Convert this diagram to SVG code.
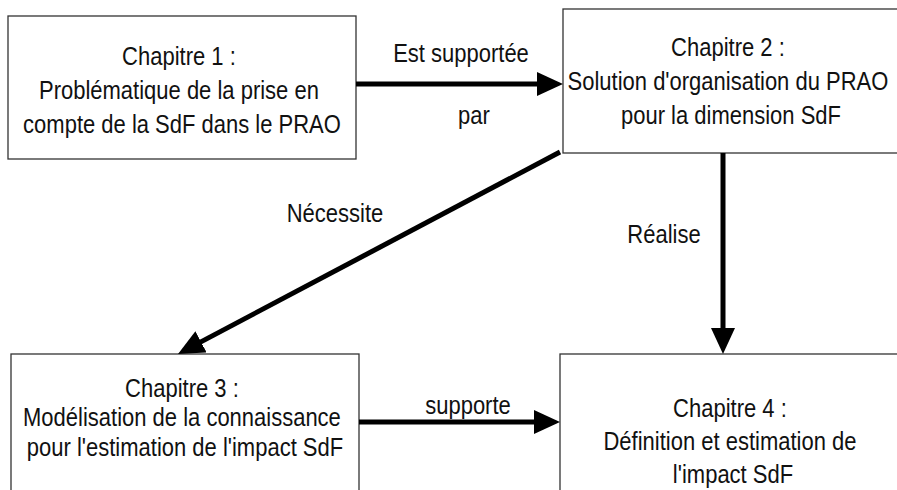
<svg xmlns="http://www.w3.org/2000/svg" width="897" height="490" viewBox="0 0 897 490">
  <defs>
    <style>
      .box { fill: #ffffff; stroke: #333333; stroke-width: 1.3; }
      .lbl { font-family: "Liberation Sans", Arial, sans-serif; font-size: 22px; fill: #111111; text-anchor: middle; }
      .edge { stroke: #000000; stroke-width: 5; fill: none; marker-end: url(#head); }
    </style>
    <marker id="head" markerUnits="userSpaceOnUse" markerWidth="26" markerHeight="24" viewBox="0 0 26 24" refX="6" refY="12" orient="auto">
      <path d="M0,0 L26,12 L0,24 z" fill="#000000"/>
    </marker>
  </defs>
  <rect width="897" height="490" fill="#ffffff"/>

  <!-- chapter boxes -->
  <g id="ch1">
    <rect class="box" x="8" y="16" width="348" height="143"/>
    <text class="lbl" transform="translate(182,65) scale(1,1.18)">
      <tspan x="0" y="0">Chapitre 1 :</tspan>
      <tspan x="0" dy="28.8">Problématique de la prise en</tspan>
      <tspan x="0" dy="28.8">compte de la SdF dans le PRAO</tspan>
    </text>
  </g>
  <g id="ch2">
    <rect class="box" x="563" y="9" width="380" height="144"/>
    <text class="lbl" transform="translate(731,56) scale(1,1.18)">
      <tspan x="0" y="0">Chapitre 2 :</tspan>
      <tspan x="0" dy="28.8">Solution d'organisation du PRAO</tspan>
      <tspan x="0" dy="28.8">pour la dimension SdF</tspan>
    </text>
  </g>
  <g id="ch3">
    <rect class="box" x="11" y="354" width="348" height="140"/>
    <text class="lbl" transform="translate(185,397) scale(1,1.18)">
      <tspan x="0" y="0">Chapitre 3 :</tspan>
      <tspan x="0" dy="25">Modélisation de la connaissance</tspan>
      <tspan x="0" dy="25">pour l'estimation de l'impact SdF</tspan>
    </text>
  </g>
  <g id="ch4">
    <rect class="box" x="560" y="354" width="360" height="140"/>
    <text class="lbl" transform="translate(733,417) scale(1,1.18)">
      <tspan x="0" y="0">Chapitre 4 :</tspan>
      <tspan x="0" dy="28">Définition et estimation de</tspan>
      <tspan x="0" dy="28">l'impact SdF</tspan>
    </text>
  </g>

  <!-- connectors -->
  <g id="connectors">
    <line class="edge" x1="356" y1="84" x2="543" y2="84"/>
    <line class="edge" x1="723" y1="153" x2="723" y2="334"/>
    <line class="edge" x1="560" y1="152" x2="195.7" y2="344.6"/>
    <line class="edge" x1="359" y1="422" x2="540" y2="422"/>
    <text class="lbl" transform="translate(461,62) scale(1,1.18)">Est supportée</text>
    <text class="lbl" transform="translate(474,124) scale(1,1.18)">par</text>
    <text class="lbl" transform="translate(335,222) scale(1,1.18)">Nécessite</text>
    <text class="lbl" transform="translate(664,243) scale(1,1.18)">Réalise</text>
    <text class="lbl" transform="translate(468,414) scale(1,1.18)">supporte</text>
  </g>
</svg>
